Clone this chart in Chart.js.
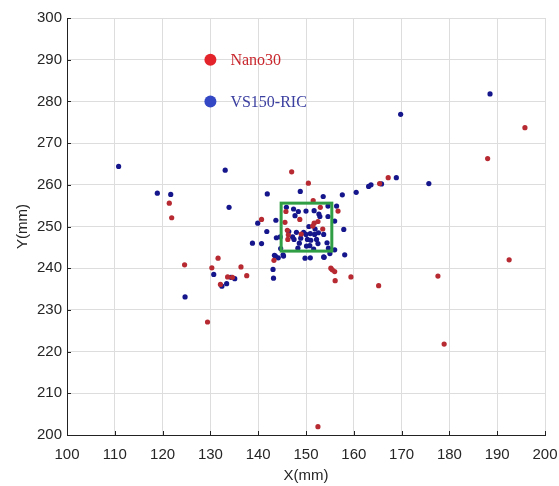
<!DOCTYPE html>
<html>
<head>
<meta charset="utf-8">
<script src="https://cdn.jsdelivr.net/npm/chart.js@4.4.1/dist/chart.umd.min.js"></script>
<style>
  body { margin: 0; background: #fff; }
  #wrap { width: 559px; height: 486px; }
</style>
</head>
<body>
<div id="wrap"><canvas id="myChart" width="559" height="486"></canvas></div>
<script>
// points, [x, y] in mm
const nano30 = [
  [188.0, 266.3], [195.8, 273.7], [167.2, 261.7], [165.4, 260.3], [192.5, 242.0],
  [159.4, 237.9], [165.2, 235.8], [177.6, 238.1], [178.9, 221.8], [121.4, 255.6],
  [121.9, 252.1], [131.6, 242.4], [124.6, 240.8], [130.3, 240.1], [136.4, 240.3],
  [137.6, 238.2], [133.6, 237.9], [134.6, 237.8], [132.1, 236.1], [129.4, 227.1],
  [152.5, 202.0], [156.7, 253.7], [156.0, 239.2], [155.2, 240.0], [155.5, 239.6],
  [156.1, 237.0], [143.3, 241.9], [147.0, 263.1], [150.5, 260.4], [151.5, 256.2],
  [145.8, 253.6], [153.0, 254.6], [148.7, 251.7], [140.7, 251.7], [145.6, 251.0],
  [151.7, 250.8], [151.4, 250.1], [152.5, 251.2], [153.5, 249.4], [146.1, 249.1],
  [146.3, 248.0], [149.0, 248.2], [146.2, 246.9]
];

const vs150 = [
  [188.5, 281.8], [169.8, 276.9], [160.5, 258.2], [163.1, 259.6], [163.6, 260.0],
  [165.8, 260.2], [168.9, 261.7], [175.7, 260.3], [110.8, 264.4], [133.1, 263.5],
  [118.9, 258.0], [121.7, 257.7], [133.9, 254.6], [139.9, 250.8], [138.8, 246.0],
  [140.7, 245.9], [130.7, 238.5], [135.1, 237.5], [134.3, 237.8], [132.4, 235.7],
  [133.4, 236.3], [124.7, 233.1], [157.6, 257.6], [156.4, 254.9], [156.0, 251.3],
  [157.9, 249.3], [156.0, 244.4], [158.1, 243.2], [143.1, 239.7], [143.2, 237.6],
  [143.6, 242.9], [144.2, 242.5], [145.3, 242.9], [149.8, 242.4], [150.9, 242.5],
  [153.8, 242.6], [148.8, 258.4], [141.9, 257.8], [153.6, 257.2], [145.9, 254.6],
  [147.4, 254.2], [148.4, 253.6], [150.0, 253.7], [151.7, 253.8], [154.6, 254.9],
  [154.6, 252.4], [152.9, 252.4], [152.7, 253.0], [147.7, 252.6], [143.7, 251.5],
  [150.6, 250.0], [151.9, 249.4], [141.8, 248.8], [146.4, 248.8], [147.2, 247.5],
  [148.0, 248.6], [149.5, 248.6], [150.0, 248.1], [150.9, 248.3], [151.8, 248.1],
  [152.6, 248.5], [153.7, 248.1], [144.6, 247.5], [143.8, 247.3], [147.5, 246.9],
  [148.9, 247.2], [150.3, 246.9], [151.0, 246.7], [152.2, 246.9], [148.6, 246.0],
  [150.1, 245.3], [150.8, 245.4], [152.5, 245.9], [154.4, 246.1], [144.7, 244.7],
  [148.3, 244.8], [151.6, 244.6], [154.7, 244.8], [143.4, 243.1], [145.2, 243.2],
  [153.7, 242.7], [155.0, 243.5]
];

const seriesNames = ['Nano30', 'VS150-RIC'];
const boxX = [144.8, 155.4];   // green square, mm
const boxY = [244.1, 255.6];
const xTicks = [100, 200, 10];
const yTicks = [200, 300, 10];

const toPts = arr => arr.map(p => ({x: p[0], y: p[1]}));

// green square, legend and inward tick marks
const extras = {
  id: 'extras',
  afterDatasetsDraw(chart) {
    const {ctx, scales: {x, y}, chartArea} = chart;
    ctx.save();
    ctx.strokeStyle = '#2f9e44';
    ctx.lineWidth = 3;
    const l = x.getPixelForValue(boxX[0]), r = x.getPixelForValue(boxX[1]);
    const t = y.getPixelForValue(boxY[1]), b = y.getPixelForValue(boxY[0]);
    ctx.strokeRect(l, t, r - l, b - t);

    // legend
    const lx = x.getPixelForValue(130);
    const items = [
      {name: seriesNames[0], dot: '#e3242b', txt: '#c8262c', y: y.getPixelForValue(290)},
      {name: seriesNames[1], dot: '#3447c4', txt: '#3b3fa0', y: y.getPixelForValue(280)}
    ];
    ctx.font = '16px "Liberation Serif", "Times New Roman", serif';
    ctx.textBaseline = 'middle';
    items.forEach(it => {
      ctx.fillStyle = it.dot;
      ctx.beginPath();
      ctx.arc(lx, it.y, 6, 0, Math.PI * 2);
      ctx.fill();
      ctx.fillStyle = it.txt;
      ctx.fillText(it.name, lx + 20, it.y + 1);
    });

    // small ticks pointing into the plot
    ctx.strokeStyle = '#222';
    ctx.lineWidth = 1;
    ctx.beginPath();
    for (let v = xTicks[0]; v <= xTicks[1]; v += xTicks[2]) {
      const px = Math.round(x.getPixelForValue(v)) + 0.5;
      ctx.moveTo(px, chartArea.bottom);
      ctx.lineTo(px, chartArea.bottom - 4);
    }
    for (let v = yTicks[0]; v <= yTicks[1]; v += yTicks[2]) {
      const py = Math.round(y.getPixelForValue(v)) + 0.5;
      ctx.moveTo(chartArea.left, py);
      ctx.lineTo(chartArea.left + 4, py);
    }
    ctx.stroke();
    ctx.restore();
  }
};

const tickFont = {family: '"Liberation Sans", Arial, sans-serif', size: 15};

new Chart(document.getElementById('myChart').getContext('2d'), {
  type: 'scatter',
  data: {
    datasets: [
      {
        label: seriesNames[0],
        data: toPts(nano30),
        backgroundColor: '#b72a32',
        borderWidth: 0,
        pointRadius: 2.6
      },
      {
        label: seriesNames[1],
        data: toPts(vs150),
        backgroundColor: '#16168c',
        borderWidth: 0,
        pointRadius: 2.6
      }
    ]
  },
  options: {
    responsive: false,
    animation: false,
    layout: {padding: {top: 18, right: 14, left: 0, bottom: 0}},
    plugins: {legend: {display: false}, tooltip: {enabled: false}},
    scales: {
      x: {
        type: 'linear',
        min: xTicks[0], max: xTicks[1],
        afterFit(scale) { scale.height = 51; scale.paddingRight = 0; scale.paddingLeft = 0; },
        ticks: {stepSize: xTicks[2], font: tickFont, color: '#262626', padding: 11, maxRotation: 0},
        grid: {color: '#dddddd', drawTicks: false},
        border: {color: '#222', width: 1},
        title: {display: true, text: 'X(mm)', font: tickFont, color: '#262626', padding: {top: 0, bottom: 1}}
      },
      y: {
        type: 'linear',
        min: yTicks[0], max: yTicks[1],
        afterFit(scale) { scale.width = 67; scale.paddingTop = 0; scale.paddingBottom = 0; },
        ticks: {stepSize: yTicks[2], font: tickFont, color: '#262626', padding: 5},
        grid: {color: '#dddddd', drawTicks: false},
        border: {color: '#222', width: 1},
        title: {display: true, text: 'Y(mm)', font: tickFont, color: '#262626', padding: {top: 14, bottom: 0}}
      }
    }
  },
  plugins: [extras]
});
</script>
</body>
</html>
